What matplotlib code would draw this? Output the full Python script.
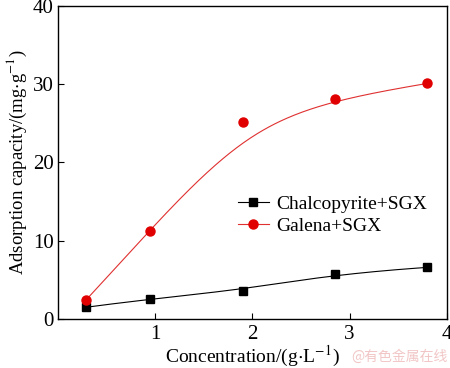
import numpy as np
import matplotlib
matplotlib.use("Agg")
import matplotlib.pyplot as plt

# data
conc = [0.285, 0.95, 1.9, 2.85, 3.8]
chalcopyrite = [1.5, 2.6, 3.6, 5.8, 6.6]
galena = [2.4, 11.3, 25.2, 28.1, 30.1]

labels = ["Chalcopyrite+SGX", "Galena+SGX"]
xticks = [1, 2, 3, 4]
yticks = [0, 10, 20, 30, 40]


def bspline(px, py, n=200, k=3):
    # clamped cubic B-spline using the data points as control points
    # (same kind of smoothed line the original plotting software draws)
    P = np.column_stack([px, py])
    m = len(P)
    knots = np.concatenate([np.zeros(k), np.linspace(0, 1, m - k + 1), np.ones(k)])
    t = np.linspace(0, 1 - 1e-9, n)

    def basis(i, d, t):
        if d == 0:
            return ((knots[i] <= t) & (t < knots[i + 1])).astype(float)
        out = np.zeros_like(t)
        if knots[i + d] > knots[i]:
            out += (t - knots[i]) / (knots[i + d] - knots[i]) * basis(i, d - 1, t)
        if knots[i + d + 1] > knots[i + 1]:
            out += (knots[i + d + 1] - t) / (knots[i + d + 1] - knots[i + 1]) * basis(i + 1, d - 1, t)
        return out

    B = np.column_stack([basis(i, k, t) for i in range(m)])
    curve = B @ P
    curve[-1] = P[-1]
    return curve[:, 0], curve[:, 1]


plt.rcParams["font.family"] = ["Liberation Serif", "DejaVu Serif"]
plt.rcParams["mathtext.fontset"] = "stix"

fig = plt.figure(figsize=(4.5, 3.68), dpi=100)
ax = fig.add_axes([0.129, 0.133, 0.864, 0.851])

cx, cy = bspline(conc, chalcopyrite)
ax.plot(cx, cy, color="black", lw=0.8)
ax.plot(conc, chalcopyrite, "s", color="black", ms=5.5)
gx, gy = bspline(conc, galena)
ax.plot(gx, gy, color="#e03030", lw=0.8)
ax.plot(conc, galena, "o", color="#e00000", ms=6.5)

ax.plot([], [], "-s", color="black", lw=0.8, ms=5.5, label=labels[0])
ax.plot([], [], "-o", color="#e03030", mfc="#e00000", mec="#e00000", lw=0.8, ms=6.5, label=labels[1])
ax.legend(loc="upper left", bbox_to_anchor=(0.462, 0.395), frameon=False,
          fontsize=14, handlelength=1.6, handletextpad=0.4, labelspacing=0.22,
          borderaxespad=0, borderpad=0)

ax.set_xlim(0, 4)
ax.set_ylim(0, 40)
ax.set_xticks(xticks)
ax.set_yticks(yticks)
ax.tick_params(direction="in", length=4, width=0.8, labelsize=15, pad=3)
ax.tick_params(axis="x", pad=4)
for sp in ax.spines.values():
    sp.set_linewidth(1.0)

ax.set_xlabel("Concentration/(g$\\cdot$L$^{-1}$)", fontsize=14, labelpad=0)
ax.set_ylabel("Adsorption capacity/(mg$\\cdot$g$^{-1}$)", fontsize=13.5, labelpad=3)

fig.text(0.995, 0.01, "@有色金属在线", color="#f2c6c6", fontsize=10,
         ha="right", va="bottom", family=["Noto Sans CJK SC", "DejaVu Sans"])

fig.savefig("out.png", dpi=100)
